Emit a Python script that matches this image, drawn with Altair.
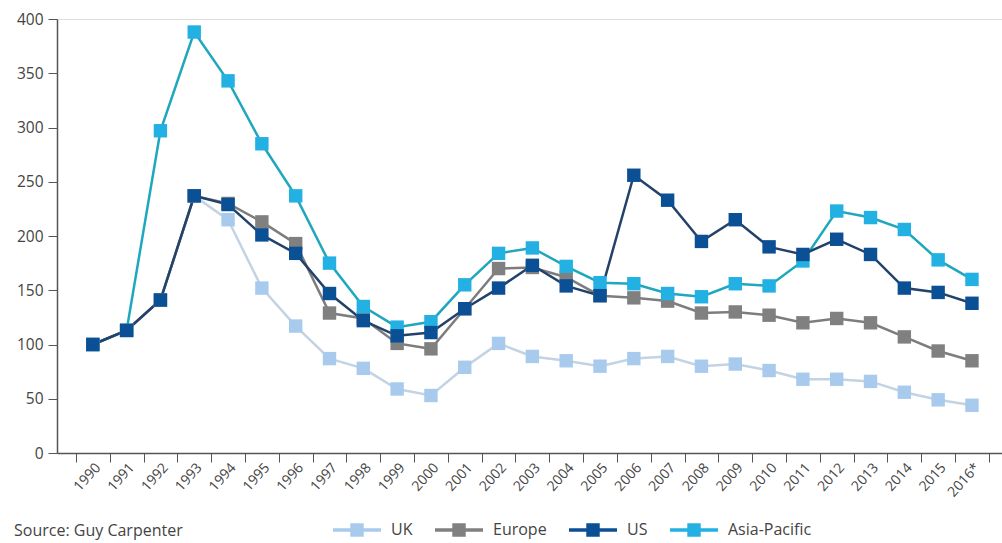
import altair as alt
import pandas as pd

years = ["1990", "1991", "1992", "1993", "1994", "1995", "1996", "1997", "1998",
         "1999", "2000", "2001", "2002", "2003", "2004", "2005", "2006", "2007",
         "2008", "2009", "2010", "2011", "2012", "2013", "2014", "2015", "2016*"]

uk = [100, 113, 141, 237, 215, 152, 117, 87, 78, 59, 53, 79, 101, 89, 85, 80, 87, 89,
      80, 82, 76, 68, 68, 66, 56, 49, 44]
europe = [100, 113, 141, 237, 230, 213, 193, 129, 124, 101, 96, 133, 170, 171, 162, 145,
          143, 140, 129, 130, 127, 120, 124, 120, 107, 94, 85]
us = [100, 113, 141, 237, 229, 201, 184, 147, 122, 108, 111, 133, 152, 173, 154, 145, 256,
      233, 195, 215, 190, 183, 197, 183, 152, 148, 138]
asia_pacific = [100, 113, 297, 388, 343, 285, 237, 175, 135, 116, 121, 155, 184, 189, 172,
                157, 156, 147, 144, 156, 154, 177, 223, 217, 206, 178, 160]

legend_order = ["UK", "Europe", "US", "Asia-Pacific"]
draw_order = ["UK", "Europe", "Asia-Pacific", "US"]
marker_colors = ["#a8cbed", "#808080", "#0b4f94", "#22b1e2"]
line_colors = ["#c3d3e3", "#7d7d7d", "#23426a", "#1fa7bd"]

values = {"UK": uk, "Europe": europe, "US": us, "Asia-Pacific": asia_pacific}
rows = []
for name in draw_order:
    for y, v in zip(years, values[name]):
        rows.append({"year": y, "value": v, "series": name, "line_series": name})
df = pd.DataFrame(rows)

FONT = "Open Sans"
TXT = "#444444"

x_enc = alt.X(
    "year:N", sort=years,
    scale=alt.Scale(type="band", paddingInner=0, paddingOuter=0.4735, align=0.59),
    axis=alt.Axis(title=None, labelAngle=-48, labelAlign="right", labelBaseline="middle",
                  tickBand="extent", tickSize=9, tickColor="#555555", domainColor="#555555",
                  domainWidth=1.5, labelFontSize=14, labelColor=TXT, labelPadding=3,
                  labelOffset=5, labelFont=FONT, grid=False),
)
y_enc = alt.Y(
    "value:Q",
    scale=alt.Scale(domain=[0, 400], nice=False),
    axis=alt.Axis(title=None, values=list(range(0, 401, 50)), tickSize=9,
                  tickColor="#555555", domainColor="#555555", domainWidth=1.5,
                  labelFontSize=15.5, labelColor=TXT, labelFont=FONT, labelPadding=5,
                  grid=False),
)

base = alt.Chart(df)

lines = base.mark_line(strokeWidth=2.5).encode(
    x=x_enc, y=y_enc,
    stroke=alt.Stroke("line_series:N",
                      scale=alt.Scale(domain=legend_order, range=line_colors),
                      legend=None),
    detail="line_series:N",
)

legend_symbol = "M-1,-0.07H1V0.07H-1Z M-0.28,-0.28H0.28V0.28H-0.28Z"

points = base.mark_point(shape="square", filled=True, size=180, opacity=1).encode(
    x=x_enc, y=y_enc,
    fill=alt.Fill("series:N", scale=alt.Scale(domain=legend_order, range=marker_colors),
                  legend=alt.Legend(title=None, orient="none", legendX=276, legendY=487,
                                    direction="horizontal", symbolType=legend_symbol,
                                    symbolSize=2304, symbolStrokeWidth=0,
                                    symbolOpacity=1,
                                    labelFontSize=16, labelFont=FONT, labelColor=TXT,
                                    labelOffset=10, columnPadding=22)),
)

source = alt.Chart(pd.DataFrame({"t": ["Source: Guy Carpenter"]})).mark_text(
    align="left", baseline="middle", fontSize=16, font=FONT, color=TXT
).encode(text="t:N", x=alt.value(-43), y=alt.value(512))

chart = alt.layer(lines, points, source).resolve_scale(
    fill="independent", stroke="independent"
).properties(
    width=945, height=434,
    autosize=alt.AutoSizeParams(type="none"),
    padding={"left": 57, "top": 19, "right": 0, "bottom": 90},
).configure_view(stroke=None).configure(background="white")

chart.save("out.html", embed_options={"renderer": "svg", "actions": False})
